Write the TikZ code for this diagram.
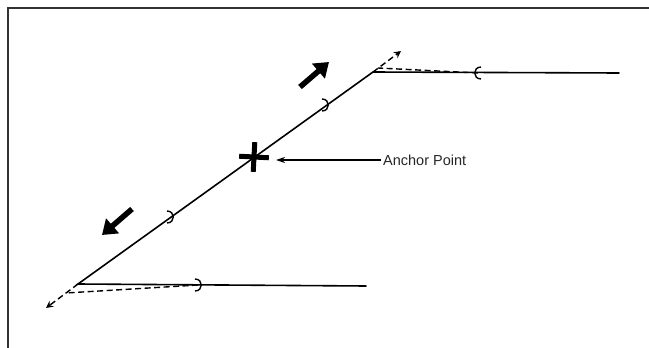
\documentclass[tikz,border=0pt]{standalone}
\usepackage{fontspec}
\setmainfont{Liberation Sans}
\usetikzlibrary{arrows.meta,shapes.misc}
\tikzset{
  rod/.style={line width=1.6pt, line cap=round},
  ghost/.style={line width=1.4pt, dash pattern=on 6pt off 3.5pt},
  gtip/.style={ghost, -{Stealth[length=7pt, width=7pt]}},
  hook/.style={line width=1.4pt},
  move/.style={line width=5.5pt, -{Triangle[length=14pt, width=19pt]}},
  ptr/.style={line width=1.2pt, -{Stealth[length=9pt, width=6pt]}},
  lbl/.style={font=\fontsize{14.5}{16}\selectfont, text=black!85, inner sep=2pt, anchor=west},
}
\begin{document}
\begin{tikzpicture}[x=1pt, y=-1pt]
\useasboundingbox (0,0) rectangle (649,348);
% frame
\draw[line width=1.4pt, black!80] (8,348) -- (8,8) -- (649,8);
% rope
\coordinate (v1) at (78,284);
\coordinate (v2) at (373,72);
\coordinate (e1) at (366,286);
\coordinate (e2) at (619,73);
\draw[rod] (e1) -- (v1) -- (v2) -- (e2);
% hooks
\coordinate (h1) at (198,285);
\coordinate (h2) at (478,73);
\coordinate (h3) at (170,217);
\coordinate (h4) at (325,105);
\foreach \h in {h1,h3,h4}
  \draw[hook] (\h) ++(-3,-6) to[out=0, in=0, looseness=1.8] ++(0,12);
\draw[hook] (h2) ++(3,-6) to[out=180, in=180, looseness=1.8] ++(0,12);
% moved position
\coordinate (p1) at (66,293);
\coordinate (t1) at (46,308);
\coordinate (p2) at (378,68);
\coordinate (t2) at (401,51);
\draw[ghost] (h1) -- (p1);
\draw[gtip] (v1) -- (t1);
\draw[ghost] (h2) -- (p2);
\draw[gtip] (v2) -- (t2);
% direction of motion
\draw[move] (300,87) -- (329,62);
\draw[move] (132,209) -- (102,235);
% anchor
\node[draw, cross out, line width=5pt, minimum size=16pt, inner sep=0pt, rotate=42] (anc) at (254,157) {};
\node[lbl] (atxt) at (381,160) {Anchor Point};
\draw[ptr, shorten >=22pt] (atxt.west) -- (anc |- atxt.west);
\end{tikzpicture}
\end{document}
